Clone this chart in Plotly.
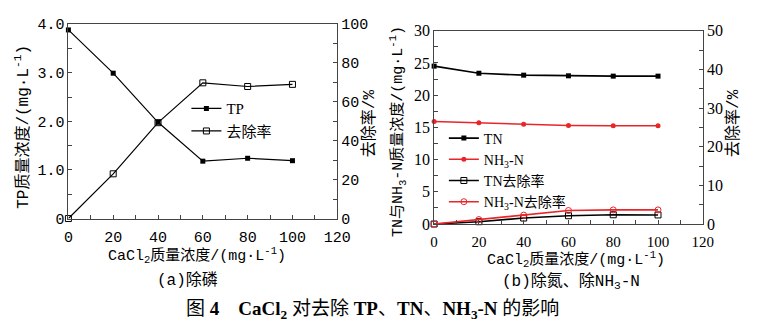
import plotly.graph_objects as go

# ---------------- data ----------------
cacl2 = [0, 20, 40, 60, 80, 100]
tp = [3.88, 2.99, 1.98, 1.18, 1.24, 1.19]
tp_rate = [0, 23.0, 49.3, 69.8, 67.9, 69.0]

tn = [24.5, 23.4, 23.1, 23.0, 22.95, 22.95]
nh3 = [15.9, 15.7, 15.5, 15.3, 15.25, 15.25]
tn_rate = [0, 0.6, 1.55, 2.15, 2.4, 2.35]
nh3_rate = [0, 1.15, 2.3, 3.5, 3.65, 3.65]

left_ticks = [0, 1, 2, 3, 4]
left_ticktext = ["0", "1.0", "2.0", "3.0", "4.0"]

W, H = 768, 335
SERIF = "Liberation Serif, Noto Sans CJK SC"
MONO = "Liberation Mono, Noto Sans CJK SC"
AX = "#444444"

def px(x):
    return x / W

def py(y):
    return 1 - y / H

fig = go.Figure()

# ---- panel (a) ----
fig.add_trace(go.Scatter(x=cacl2, y=tp, name="TP", mode="lines+markers",
                         line=dict(color="black", width=1.2),
                         marker=dict(symbol="square", size=5, color="black"),
                         xaxis="x", yaxis="y", legend="legend", cliponaxis=False))
fig.add_trace(go.Scatter(x=cacl2, y=tp_rate, name="去除率", mode="lines+markers",
                         line=dict(color="black", width=1.2),
                         marker=dict(symbol="square-open", size=6, color="black",
                                     line=dict(width=1)),
                         xaxis="x", yaxis="y2", legend="legend", cliponaxis=False))

# ---- panel (b) ----
fig.add_trace(go.Scatter(x=cacl2, y=tn, name="TN", mode="lines+markers",
                         line=dict(color="black", width=1.6),
                         marker=dict(symbol="square", size=5, color="black"),
                         xaxis="x3", yaxis="y3", legend="legend2", cliponaxis=False))
fig.add_trace(go.Scatter(x=cacl2, y=nh3, name="NH<sub>3</sub>-N", mode="lines+markers",
                         line=dict(color="#e8262a", width=1.6),
                         marker=dict(symbol="circle", size=5, color="#e8262a"),
                         xaxis="x3", yaxis="y3", legend="legend2", cliponaxis=False))
fig.add_trace(go.Scatter(x=cacl2, y=tn_rate, name="TN去除率", mode="lines+markers",
                         line=dict(color="black", width=1.6),
                         marker=dict(symbol="square-open", size=6, color="black",
                                     line=dict(width=1)),
                         xaxis="x3", yaxis="y4", legend="legend2", cliponaxis=False))
fig.add_trace(go.Scatter(x=cacl2, y=nh3_rate, name="NH<sub>3</sub>-N去除率", mode="lines+markers",
                         line=dict(color="#e8262a", width=1.6),
                         marker=dict(symbol="circle-open", size=6, color="#e8262a",
                                     line=dict(width=1)),
                         xaxis="x3", yaxis="y4", legend="legend2", cliponaxis=False))

common = dict(showline=True, linecolor=AX, linewidth=1, ticks="inside", ticklen=4,
              tickcolor=AX, showgrid=False, zeroline=False)
tickfont_a = dict(family=MONO, size=15, color="black")
tickfont_b = dict(family=SERIF, size=16, color="black")
tickfont_bx = dict(family=SERIF, size=15, color="black")

fig.update_layout(
    width=W, height=H,
    margin=dict(l=0, r=0, t=0, b=0),
    paper_bgcolor="white", plot_bgcolor="white",
    font=dict(family=SERIF, color="black"),
    xaxis=dict(domain=[px(65), px(340.7)], range=[0, 120], dtick=20, tick0=0,
               anchor="y", mirror=True, tickfont=tickfont_a, ticklabelstandoff=4,
               minor=dict(ticks="inside", ticklen=4, dtick=10, tick0=0, tickcolor=AX),
               **common),
    yaxis=dict(domain=[py(222.5), py(17)], range=[0, 4], tickmode="array",
               tickvals=left_ticks, ticktext=left_ticktext, anchor="x",
               tickfont=tickfont_a,
               minor=dict(ticks="inside", ticklen=4, tickvals=[0.5, 1.5, 2.5, 3.5],
                          tickcolor=AX),
               **common),
    yaxis2=dict(range=[0, 100], dtick=20, tick0=0, overlaying="y", side="right",
                anchor="x", tickfont=tickfont_a,
                minor=dict(ticks="inside", ticklen=4, dtick=10, tick0=0, tickcolor=AX),
                **common),
    xaxis3=dict(domain=[px(440), px(715.5)], range=[0, 120], dtick=20, tick0=0,
                anchor="y3", mirror=True, tickfont=tickfont_bx, ticklabelstandoff=4,
                minor=dict(ticks="inside", ticklen=4, dtick=10, tick0=0, tickcolor=AX),
                **common),
    yaxis3=dict(domain=[py(228.3), py(24)], range=[0, 30], dtick=5, tick0=0,
                anchor="x3", tickfont=tickfont_b,
                minor=dict(ticks="inside", ticklen=4, dtick=2.5, tick0=0, tickcolor=AX),
                **common),
    yaxis4=dict(range=[0, 50], dtick=10, tick0=0, overlaying="y3", side="right",
                anchor="x3", tickfont=tickfont_b,
                minor=dict(ticks="inside", ticklen=4, dtick=5, tick0=0, tickcolor=AX),
                **common),
    legend=dict(x=px(186), y=py(89), xanchor="left", yanchor="top",
                bgcolor="rgba(0,0,0,0)", font=dict(family=SERIF, size=15),
                tracegroupgap=0, itemwidth=30),
    legend2=dict(x=px(450), y=py(121), xanchor="left", yanchor="top",
                 bgcolor="rgba(0,0,0,0)", font=dict(family=SERIF, size=14),
                 tracegroupgap=0, itemwidth=30),
    showlegend=True,
)

def ann(text, x, y, size=14, angle=0, family=SERIF):
    fig.add_annotation(text=text, x=px(x), y=py(y), xref="paper", yref="paper",
                       showarrow=False, textangle=angle, xanchor="center",
                       yanchor="middle", font=dict(family=family, size=size, color="black"))

# axis titles panel (a)
ann("TP质量浓度/(mg·L<sup>-1</sup>)", 18, 126, 16, -90, MONO)
ann("去除率/%", 374, 122, 16, -90, MONO)
ann("CaCl<sub>2</sub>质量浓度/(mg·L<sup>-1</sup>)", 197, 262, 15, 0, MONO)
ann("(a)除磷", 187, 288, 16, 0, MONO)

# axis titles panel (b)
ann("TN与NH<sub>3</sub>-N质量浓度/(mg·L<sup>-1</sup>)", 403, 131, 15, -90, MONO)
ann("去除率/%", 747, 122, 16, -90, MONO)
ann("CaCl<sub>2</sub>质量浓度/(mg·L<sup>-1</sup>)", 585, 266, 15, 0, MONO)
ann("(b)除氮、除NH<sub>3</sub>-N", 580, 290, 16, 0, MONO)

# caption
ann("图 <b>4</b>    <b>CaCl<sub>2</sub></b> 对去除 <b>TP</b>、<b>TN</b>、<b>NH<sub>3</sub>-N</b> 的影响",
    377, 319, 19)

fig.write_html("out.html")
